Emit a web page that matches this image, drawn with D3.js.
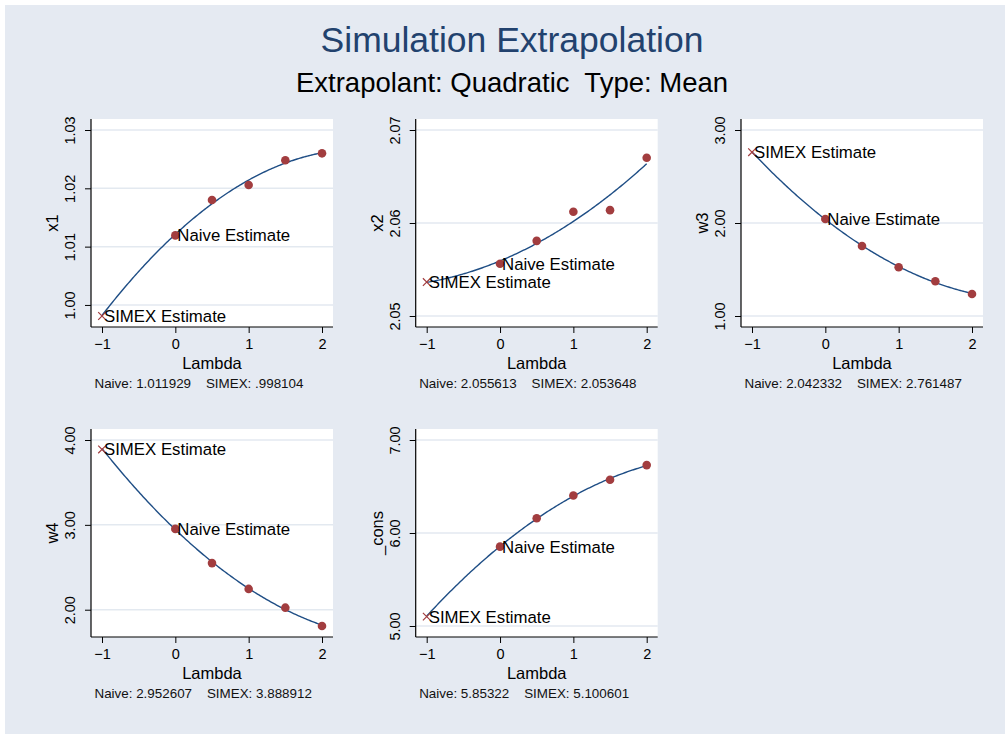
<!DOCTYPE html>
<html>
<head>
<meta charset="UTF-8">
<script src="https://cdn.jsdelivr.net/npm/d3@7"></script>
<style>
body{
    margin: 0;
    background: #fff;
    font-family: "Liberation Sans", Arial, Helvetica, sans-serif;
}
</style>
</head>
<body>
<script>
// values
var lambdas = [0, 0.5, 1, 1.5, 2]
var panelNames = ["x1", "x2", "w3", "w4", "_cons"]
var x1Values = [1.011929, 1.0180, 1.02057, 1.0248, 1.0260]
var x2Values = [2.055613, 2.058079, 2.061203, 2.061382, 2.06702]
var w3Values = [2.042332, 1.752, 1.525, 1.374, 1.237]
var w4Values = [2.952607, 2.549, 2.245, 2.024, 1.808]
var consValues = [5.85322, 6.158, 6.403, 6.572, 6.730]
var naiveValues = [1.011929, 2.055613, 2.042332, 2.952607, 5.85322]
var simexValues = [0.998104, 2.053648, 2.761487, 3.888912, 5.100601]
var yTicks = [
    [1.00, 1.01, 1.02, 1.03],
    [2.05, 2.06, 2.07],
    [1, 2, 3],
    [2, 3, 4],
    [5, 6, 7]
]
var xTicks = [-1, 0, 1, 2]
var seriesValues = [x1Values, x2Values, w3Values, w4Values, consValues]

var width = 1005
var height = 734

var svg = d3.select('body')
    .append('svg')
    .attr('width', width)
    .attr('height', height)

svg.append("rect")
    .attr("x", 5)
    .attr("y", 5)
    .attr("width", width - 5)
    .attr("height", height - 5)
    .attr("fill", "#e5eaf2")

svg.append("text")
    .attr("x", 512)
    .attr("y", 52)
    .attr("text-anchor", "middle")
    .attr("font-size", 35.5)
    .attr("fill", "#22426e")
    .text("Simulation Extrapolation")

svg.append("text")
    .attr("x", 512)
    .attr("y", 92)
    .attr("text-anchor", "middle")
    .attr("font-size", 27.5)
    .attr("fill", "#000")
    .style("white-space", "pre")
    .text("Extrapolant: Quadratic  Type: Mean")

// least squares quadratic through the points (same as the extrapolant)
function quadFit(xs, ys){
    let s = [0, 0, 0, 0, 0], t = [0, 0, 0]
    for (let i = 0; i < xs.length; i++){
        let p = 1
        for (let k = 0; k < 5; k++){ s[k] += p; if (k < 3) t[k] += p * ys[i]; p *= xs[i] }
    }
    let m = [[s[0], s[1], s[2], t[0]], [s[1], s[2], s[3], t[1]], [s[2], s[3], s[4], t[2]]]
    for (let c = 0; c < 3; c++){
        for (let r = c + 1; r < 3; r++){
            let f = m[r][c] / m[c][c]
            for (let k = c; k < 4; k++) m[r][k] -= f * m[c][k]
        }
    }
    let b = [0, 0, 0]
    for (let r = 2; r >= 0; r--){
        let v = m[r][3]
        for (let k = r + 1; k < 3; k++) v -= m[r][k] * b[k]
        b[r] = v / m[r][r]
    }
    return function(x){ return b[0] + b[1] * x + b[2] * x * x }
}

var colLeft = [91, 415.7, 741]
var rowTop = [119, 429]
var pw = 242
var ph = 208
var pad = 11
var fmt = d3.format(".2f")

for (let i = 0; i < panelNames.length; i++){
    let L = colLeft[i % 3]
    let T = rowTop[Math.floor(i / 3)]
    let B = T + ph
    let R = L + pw
    let vals = seriesValues[i]
    let all = vals.concat([simexValues[i]]).concat(yTicks[i])

    let x = d3.scaleLinear().domain([-1, 2]).range([L + pad, R - pad])
    let y = d3.scaleLinear().domain(d3.extent(all)).range([B - pad, T + pad])

    let g = svg.append("g")

    g.append("rect")
        .attr("x", L)
        .attr("y", T)
        .attr("width", pw)
        .attr("height", ph)
        .attr("fill", "white")

    g.selectAll(".grid")
        .data(yTicks[i])
        .enter()
        .append("line")
        .attr("x1", L)
        .attr("x2", R)
        .attr("y1", d => y(d))
        .attr("y2", d => y(d))
        .attr("stroke", "#e3e9f0")
        .attr("stroke-width", 1.5)

    g.append("g")
        .attr("transform", "translate(" + L + ",0)")
        .call(d3.axisLeft(y).tickValues(yTicks[i]).tickFormat(fmt).tickSize(6).tickSizeOuter(0))
        .call(a => a.select(".domain").attr("d", "M0," + T + "V" + B))
        .call(a => a.selectAll("text")
            .attr("font-size", 14.5)
            .attr("font-family", "Liberation Sans, Arial, sans-serif")
            .attr("fill", "#000")
            .attr("transform", "rotate(-90)")
            .attr("x", 0)
            .attr("y", -16)
            .attr("dy", 0)
            .attr("dx", 0)
            .attr("text-anchor", "middle"))

    g.append("g")
        .attr("transform", "translate(0," + B + ")")
        .call(d3.axisBottom(x).tickValues(xTicks).tickFormat(d3.format("d")).tickSize(6).tickPadding(6).tickSizeOuter(0))
        .call(a => a.select(".domain").attr("d", "M" + L + ",0H" + R))
        .call(a => a.selectAll("text")
            .attr("font-size", 14.5)
            .attr("font-family", "Liberation Sans, Arial, sans-serif")
            .attr("fill", "#000"))

    g.selectAll(".domain").attr("stroke", "#000").attr("stroke-width", 1.2)
    g.selectAll(".tick line").attr("stroke", "#000")

    g.append("text")
        .attr("transform", "translate(" + (L - 33) + "," + (T + ph / 2) + ") rotate(-90)")
        .attr("text-anchor", "middle")
        .attr("font-size", 16.5)
        .text(panelNames[i])

    g.append("text")
        .attr("x", (L + R) / 2)
        .attr("y", B + 41.5)
        .attr("text-anchor", "middle")
        .attr("font-size", 16.5)
        .text("Lambda")

    g.append("text")
        .attr("x", L + 3.5)
        .attr("y", B + 60.5)
        .attr("font-size", 13.4)
        .attr("fill", "#111")
        .style("white-space", "pre")
        .text("Naive: " + String(naiveValues[i]).replace(/^0\./, ".") + "    SIMEX: " + String(simexValues[i]).replace(/^0\./, "."))

    let f = quadFit(lambdas, vals)
    let curve = d3.range(-1, 2.0001, 0.02).map(l => [l, f(l)])
    g.append("path")
        .datum(curve)
        .attr("fill", "none")
        .attr("stroke", "#1f4e85")
        .attr("stroke-width", 1.4)
        .attr("d", d3.line().x(d => x(d[0])).y(d => y(d[1])))

    g.selectAll(".dot")
        .data(lambdas)
        .enter()
        .append("circle")
        .attr("cx", d => x(d))
        .attr("cy", (d, j) => y(vals[j]))
        .attr("r", 4.3)
        .attr("fill", "#a23d3f")

    let sx = x(-1), sy = y(simexValues[i])
    g.append("path")
        .attr("d", "M" + (sx - 3.8) + "," + (sy - 3.8) + "L" + (sx + 3.8) + "," + (sy + 3.8) +
                   "M" + (sx - 3.8) + "," + (sy + 3.8) + "L" + (sx + 3.8) + "," + (sy - 3.8))
        .attr("stroke", "#a23d3f")
        .attr("stroke-width", 1.2)

    g.append("text")
        .attr("x", x(0) + 2)
        .attr("y", y(naiveValues[i]) + 6)
        .attr("font-size", 16.8)
        .text("Naive Estimate")

    g.append("text")
        .attr("x", sx + 2)
        .attr("y", sy + 6)
        .attr("font-size", 16.8)
        .text("SIMEX Estimate")
}
</script>
</body>
</html>
